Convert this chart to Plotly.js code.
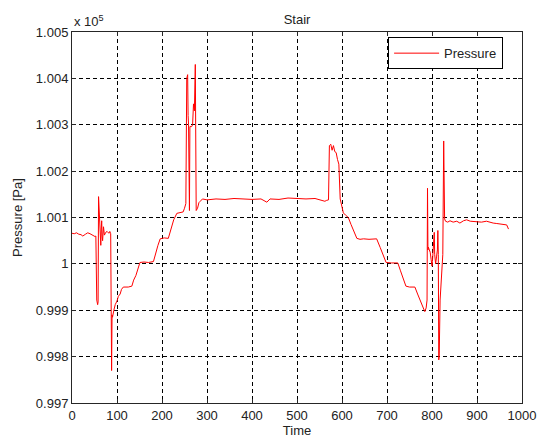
<!DOCTYPE html>
<html>
<head>
<meta charset="utf-8">
<script src="https://cdn.plot.ly/plotly-3.0.1.min.js"></script>
<style>
  html, body { margin: 0; padding: 0; background: #fff; }
  #stairPlot { width: 543px; height: 442px; }
</style>
</head>
<body>
<div id="stairPlot"></div>
<script>
// Time samples:
var time = [0, 5, 10, 15, 20, 24, 30, 35, 40, 46, 51, 53, 55, 57, 58, 59, 60, 61, 62, 64,
	65, 66, 67, 68, 70, 72, 75, 78, 82, 84, 86, 88, 89, 90, 93, 96, 100, 103, 107, 110,
	114, 120, 125, 133, 137, 142, 147, 151, 160, 170, 181, 186, 191, 196, 205, 214, 220, 226, 233, 240,
	247, 250, 253, 255, 257, 258, 259, 261, 262, 266, 268, 270, 272, 274, 276, 279, 282, 285, 290, 300,
	320, 340, 360, 380, 400, 420, 433, 440, 460, 480, 500, 520, 540, 555, 562, 566, 570, 572, 575, 578,
	581, 584, 587, 590, 593, 596, 600, 603, 608, 614, 620, 627, 633, 640, 648, 660, 677, 685, 692, 698,
	710, 724, 730, 736, 742, 750, 762, 768, 774, 780, 784, 787, 789, 790, 791, 792, 794, 796, 798, 800,
	801, 803, 805, 806, 808, 810, 812, 813, 814, 815, 816, 818, 820, 822, 824, 826, 827, 828, 830, 835,
	840, 847, 855, 862, 870, 877, 885, 892, 899, 910, 921, 930, 936, 944, 951, 958, 966, 970];

// Pressure in units of 10^5 Pa:
var pressure = [1.00066, 1.00065, 1.00067, 1.00064, 1.00063, 1.00060, 1.00064, 1.00067, 1.00065, 1.00062,
	1.00059, 1.00060, 0.99922, 0.99912, 0.99918, 1.00145, 1.00115, 1.00095, 1.00065, 1.00040,
	1.00075, 1.00093, 1.00060, 1.00050, 1.00080, 1.00062, 1.00068, 1.00070, 1.00066, 1.00070,
	1.00065, 0.99770, 0.99890, 0.99885, 0.99900, 0.99912, 0.99920, 0.99930, 0.99935, 0.99945,
	0.99950, 0.99950, 0.99950, 0.99952, 0.99965, 0.99975, 0.99990, 1.00003, 1.00004, 1.00003,
	1.00005, 1.00025, 1.00040, 1.00054, 1.00056, 1.00055, 1.00075, 1.00095, 1.00109, 1.00110,
	1.00112, 1.00120, 1.00130, 1.00400, 1.00408, 1.00320, 1.00300, 1.00115, 1.00296, 1.00296,
	1.00300, 1.00345, 1.00330, 1.00430, 1.00115, 1.00120, 1.00132, 1.00135, 1.00140, 1.00138,
	1.00140, 1.00139, 1.00141, 1.00140, 1.00139, 1.00140, 1.00133, 1.00140, 1.00139, 1.00142,
	1.00141, 1.00140, 1.00141, 1.00138, 1.00135, 1.00137, 1.00138, 1.00255, 1.00258, 1.00245,
	1.00255, 1.00242, 1.00240, 1.00225, 1.00215, 1.00140, 1.00125, 1.00110, 1.00105, 1.00100,
	1.00085, 1.00068, 1.00055, 1.00053, 1.00054, 1.00053, 1.00054, 1.00035, 1.00018, 1.00003,
	1.00002, 1.00002, 0.99985, 0.99968, 0.99952, 0.99950, 0.99950, 0.99935, 0.99920, 0.99907,
	0.99897, 0.99905, 0.99922, 1.00163, 1.00030, 1.00036, 1.00030, 1.00025, 1.00010, 0.99995,
	1.00005, 1.00035, 1.00068, 1.00020, 1.00000, 1.00015, 1.00030, 1.00072, 1.00020, 0.99793,
	0.99800, 0.99922, 0.99960, 0.99986, 1.00020, 1.00265, 1.00100, 1.00097, 1.00092, 1.00090,
	1.00093, 1.00090, 1.00092, 1.00088, 1.00093, 1.00095, 1.00092, 1.00091, 1.00091, 1.00090,
	1.00092, 1.00089, 1.00088, 1.00087, 1.00086, 1.00085, 1.00084, 1.00075];

// Tick labels:
var xTicks = [0, 100, 200, 300, 400, 500, 600, 700, 800, 900, 1000];
var yTicks = [0.997, 0.998, 0.999, 1.000, 1.001, 1.002, 1.003, 1.004, 1.005];
var yTickText = ['0.997', '0.998', '0.999', '1', '1.001', '1.002', '1.003', '1.004', '1.005'];

var fontFamily = 'Liberation Sans, Arial, sans-serif';

var pressureCTX = [{
	type: 'scatter',
	mode: 'lines',
	name: 'Pressure',
	x: time,
	y: pressure,
	line: { color: '#ff0000', width: 1 }
}];

var axisStyle = {
	showline: true,
	mirror: 'ticks',
	linecolor: '#262626',
	linewidth: 1,
	ticks: 'inside',
	ticklen: 4,
	tickcolor: '#262626',
	showgrid: true,
	gridcolor: '#000',
	griddash: '4px,3px',
	gridwidth: 1,
	zeroline: false,
	tickfont: { family: fontFamily, size: 13, color: '#222' }
};

Plotly.newPlot('stairPlot', pressureCTX, {
	width: 543,
	height: 442,
	margin: { l: 72, r: 21, t: 32, b: 39 },
	paper_bgcolor: '#fff',
	plot_bgcolor: '#fff',
	font: { family: fontFamily, size: 13, color: '#222' },
	title: {
		text: 'Stair',
		font: { family: fontFamily, size: 13 },
		x: 0.5,
		xref: 'paper',
		y: 1,
		yref: 'paper',
		yanchor: 'bottom',
		pad: { b: 8 }
	},
	xaxis: Object.assign({}, axisStyle, {
		range: [0, 1000],
		tickvals: xTicks,
		title: { text: 'Time', standoff: 4, font: { family: fontFamily, size: 13 } }
	}),
	yaxis: Object.assign({}, axisStyle, {
		range: [0.997, 1.005],
		tickvals: yTicks,
		ticktext: yTickText,
		title: { text: 'Pressure [Pa]', standoff: 10, font: { family: fontFamily, size: 13 } }
	}),
	showlegend: true,
	legend: {
		x: 0.958,
		xanchor: 'right',
		y: 0.986,
		yanchor: 'top',
		bgcolor: '#fff',
		bordercolor: '#000',
		borderwidth: 1,
		itemwidth: 45,
		font: { family: fontFamily, size: 13 }
	},
	annotations: [{
		text: 'x 10<sup>5</sup>',
		xref: 'paper',
		yref: 'paper',
		x: 0,
		xanchor: 'left',
		y: 1,
		yanchor: 'bottom',
		yshift: 1,
		showarrow: false,
		font: { family: fontFamily, size: 13, color: '#222' }
	}]
}, { displayModeBar: false, staticPlot: true });
</script>
</body>
</html>
